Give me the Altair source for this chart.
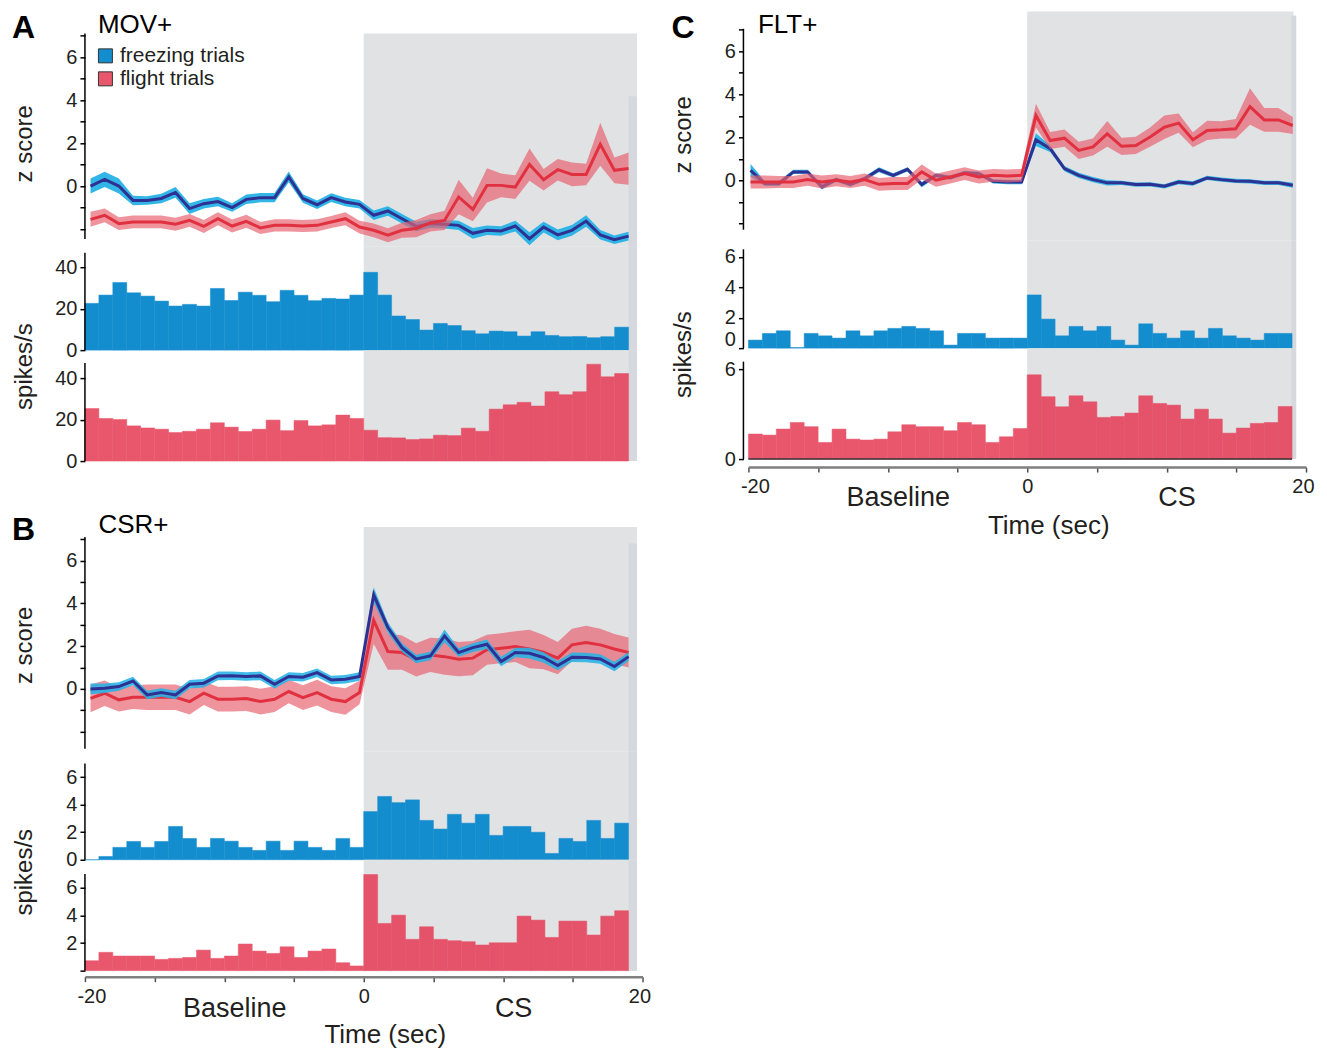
import altair as alt
import pandas as pd

FONT = "Liberation Sans"
INK = "#231f20"
BLUE_BAR = "#148dcf"
RED_BASE = "#e9576d"
RED_CS = "#e4536a"
NAVY = "#2e3192"
CYAN = "#27b2e6"
RED_LINE = "#e1303f"
PINK = "#e8606f"
GRAY = "#e1e2e4"
STRIP = "#d5d9de"

SERIES = ["freezing trials", "flight trials"]

# ---- time grids (sample times of the z-score traces, 1-s histogram bins) ----
t_ab = [round(-19.6 + 1.0158 * i, 3) for i in range(39)]
t_c = [round(-19.85 + 1.0237 * i, 3) for i in range(39)]
bin_lo = list(range(-20, 19))
bin_hi = [b + 1 for b in bin_lo]
x_ticks = [-20, -15, -10, -5, 0, 5, 10, 15, 20]
x_tick_labels = {-20: "-20", 0: "0", 20: "20"}
z_ticks = [-2, -1, 0, 1, 2, 3, 4, 5, 6, 7]
period_ticks = [-10, 10]
period_names = ["Baseline", "CS"]

# ---- Panel A: MOV+ ----
a_frz = [0.0, 0.31, 0.0, -0.67, -0.67, -0.58, -0.3, -1.05, -0.82, -0.72,
         -1.0, -0.62, -0.54, -0.54, 0.42, -0.58, -0.87, -0.54, -0.74, -0.85,
         -1.36, -1.16, -1.52, -1.88, -1.75, -1.78, -1.83, -2.2, -2.06, -2.09,
         -1.86, -2.45, -1.91, -2.27, -2.06, -1.63, -2.27, -2.5, -2.33]
a_frz_e = [0.35, 0.35, 0.35, 0.22, 0.2, 0.22, 0.25, 0.25, 0.22, 0.22,
           0.2, 0.22, 0.22, 0.22, 0.25, 0.2, 0.2, 0.2, 0.2, 0.2,
           0.22, 0.22, 0.22, 0.22, 0.2, 0.2, 0.22, 0.25, 0.22, 0.22,
           0.25, 0.3, 0.25, 0.25, 0.25, 0.27, 0.22, 0.2, 0.2]
a_flt = [-1.55, -1.36, -1.75, -1.67, -1.67, -1.67, -1.78, -1.6, -1.88, -1.52,
         -1.86, -1.64, -1.95, -1.83, -1.83, -1.86, -1.83, -1.67, -1.52, -1.91,
         -2.06, -2.29, -2.06, -1.98, -1.71, -1.6, -0.51, -1.09, 0.03, 0.03,
         -0.05, 1.0, 0.29, 0.76, 0.54, 0.54, 1.94, 0.73, 0.81]
a_flt_e = [0.35, 0.32, 0.3, 0.3, 0.3, 0.3, 0.3, 0.3, 0.3, 0.3,
           0.3, 0.3, 0.28, 0.28, 0.28, 0.28, 0.28, 0.28, 0.3, 0.3,
           0.32, 0.32, 0.35, 0.4, 0.4, 0.45, 0.8, 0.55, 0.8, 0.55,
           0.55, 0.75, 0.5, 0.5, 0.55, 0.5, 1.0, 0.6, 0.75]
a_hist_frz = [22.6, 26.6, 32.7, 27.7, 26.1, 23.7, 21.3, 22.1, 21.3, 29.8,
              24.0, 28.0, 26.5, 23.4, 28.9, 26.5, 23.9, 25.0, 24.7, 26.6,
              37.6, 26.6, 16.5, 14.8, 9.7, 12.9, 11.9, 9.4, 7.9, 9.2,
              8.9, 6.8, 8.9, 7.1, 6.5, 6.6, 6.0, 6.5, 11.1]
a_hist_flt = [25.4, 20.6, 20.1, 17.0, 16.0, 15.4, 13.8, 14.4, 15.4, 18.5,
              16.4, 14.3, 15.4, 19.8, 14.7, 19.6, 17.0, 17.5, 22.2, 20.6,
              14.9, 11.3, 11.2, 10.4, 10.7, 12.5, 12.3, 15.9, 14.4, 25.1,
              27.2, 28.4, 26.6, 33.5, 32.1, 33.5, 46.8, 40.7, 42.3]

# ---- Panel B: CSR+ ----
b_frz = [0.0, 0.03, 0.11, 0.37, -0.28, -0.17, -0.28, 0.22, 0.27, 0.61,
         0.62, 0.58, 0.61, 0.22, 0.58, 0.55, 0.76, 0.42, 0.45, 0.58,
         4.4, 2.87, 1.93, 1.4, 1.54, 2.48, 1.7, 1.93, 2.09, 1.28,
         1.7, 1.67, 1.47, 1.09, 1.48, 1.47, 1.4, 1.05, 1.51]
b_frz_e = [0.25, 0.22, 0.2, 0.2, 0.2, 0.2, 0.2, 0.2, 0.2, 0.2,
           0.2, 0.2, 0.2, 0.2, 0.2, 0.2, 0.2, 0.2, 0.2, 0.2,
           0.35, 0.25, 0.2, 0.2, 0.2, 0.3, 0.2, 0.2, 0.22, 0.22,
           0.22, 0.25, 0.25, 0.22, 0.22, 0.22, 0.22, 0.22, 0.2]
b_flt = [-0.44, -0.2, -0.51, -0.39, -0.39, -0.39, -0.39, -0.59, -0.2, -0.48,
         -0.48, -0.45, -0.59, -0.48, -0.12, -0.41, -0.17, -0.48, -0.59, -0.17,
         3.2, 1.75, 1.7, 1.36, 1.59, 1.51, 1.39, 1.44, 1.83, 1.9,
         1.98, 1.87, 1.72, 1.44, 2.06, 2.17, 2.06, 1.87, 1.7]
b_flt_e = [0.65, 0.6, 0.55, 0.55, 0.6, 0.6, 0.6, 0.6, 0.55, 0.58,
           0.58, 0.58, 0.6, 0.6, 0.55, 0.58, 0.6, 0.6, 0.62, 0.55,
           1.1, 0.85, 0.8, 0.78, 0.8, 0.85, 0.8, 0.8, 0.7, 0.7,
           0.72, 0.9, 0.8, 0.75, 0.75, 0.78, 0.75, 0.7, 0.7]
b_hist_frz = [0.0, 0.24, 0.9, 1.33, 0.9, 1.33, 2.42, 1.55, 0.9, 1.55,
              1.35, 0.9, 0.68, 1.35, 0.68, 1.35, 0.9, 0.68, 1.55, 0.9,
              3.5, 4.6, 4.15, 4.35, 2.86, 2.23, 3.3, 2.66, 3.3, 1.77,
              2.42, 2.42, 2.0, 0.46, 1.55, 1.33, 2.86, 1.55, 2.66]
b_hist_flt = [0.72, 1.33, 1.06, 1.06, 1.06, 0.82, 0.89, 0.96, 1.49, 0.89,
              1.06, 1.93, 1.42, 1.25, 1.73, 0.96, 1.42, 1.57, 0.58, 0.34,
              6.96, 3.42, 4.02, 2.27, 3.18, 2.27, 2.17, 2.1, 1.86, 2.02,
              2.02, 3.95, 3.66, 2.41, 3.59, 3.59, 2.58, 3.95, 4.34]

# ---- Panel C: FLT+ ----
c_frz = [0.46, -0.15, -0.15, 0.39, 0.39, -0.31, 0.03, -0.19, 0.08, 0.49,
         0.23, 0.51, -0.2, 0.23, 0.12, 0.34, 0.31, -0.05, -0.08, -0.08,
         1.89, 1.47, 0.54, 0.23, 0.03, -0.12, -0.12, -0.2, -0.19, -0.28,
         -0.08, -0.15, 0.11, 0.03, -0.03, -0.05, -0.12, -0.12, -0.23]
c_frz_e = [0.3, 0.12, 0.12, 0.1, 0.1, 0.12, 0.1, 0.1, 0.1, 0.12,
           0.1, 0.1, 0.12, 0.1, 0.1, 0.1, 0.1, 0.1, 0.1, 0.1,
           0.3, 0.15, 0.12, 0.12, 0.12, 0.12, 0.1, 0.1, 0.1, 0.1,
           0.1, 0.1, 0.1, 0.1, 0.1, 0.1, 0.1, 0.1, 0.12]
c_flt = [-0.08, -0.08, -0.08, -0.08, 0.03, -0.08, 0.0, -0.08, 0.03, -0.19,
         -0.15, -0.15, 0.39, 0.0, 0.15, 0.31, 0.15, 0.23, 0.2, 0.23,
         3.01, 1.85, 1.96, 1.39, 1.55, 2.16, 1.58, 1.62, 2.01, 2.47,
         2.66, 1.89, 2.32, 2.35, 2.4, 3.43, 2.81, 2.81, 2.55]
c_flt_e = [0.3, 0.3, 0.28, 0.28, 0.28, 0.3, 0.28, 0.28, 0.28, 0.3,
           0.3, 0.3, 0.35, 0.3, 0.3, 0.3, 0.3, 0.3, 0.3, 0.3,
           0.55, 0.4, 0.4, 0.4, 0.4, 0.6, 0.4, 0.4, 0.45, 0.55,
           0.45, 0.35, 0.45, 0.4, 0.45, 0.85, 0.55, 0.55, 0.4]
c_hist_frz = [0.53, 0.97, 1.14, 0.04, 0.97, 0.81, 0.66, 1.14, 0.81, 1.14,
              1.3, 1.43, 1.3, 1.14, 0.2, 0.97, 0.97, 0.66, 0.66, 0.66,
              3.5, 1.91, 0.81, 1.43, 1.14, 1.43, 0.53, 0.2, 1.6, 0.97,
              0.66, 1.14, 0.66, 1.3, 0.81, 0.66, 0.53, 0.97, 0.97]
c_hist_flt = [1.67, 1.6, 2.0, 2.44, 2.16, 1.11, 2.0, 1.33, 1.27, 1.33,
              1.82, 2.29, 2.16, 2.16, 1.89, 2.44, 2.29, 1.11, 1.49, 2.04,
              5.62, 4.16, 3.49, 4.22, 3.82, 2.78, 2.84, 3.07, 4.22, 3.71,
              3.6, 2.67, 3.33, 2.67, 1.73, 2.07, 2.38, 2.44, 3.51]

W = 558


def xscale():
    return alt.Scale(domain=[-20, 20], nice=False, zero=False)


def shading(cs_end, strip_x, xaxis=None, strip_y=None, Y=None):
    gray = alt.Chart(pd.DataFrame({"a": [0.0], "b": [cs_end]})).mark_rect(color=GRAY).encode(
        x=alt.X("a:Q", scale=xscale(), axis=xaxis), x2="b:Q")
    sdf = pd.DataFrame({"a": [strip_x[0]], "b": [strip_x[1]]})
    if strip_y is None:
        strip = alt.Chart(sdf).mark_rect(color=STRIP).encode(
            x=alt.X("a:Q", scale=xscale(), axis=None), x2="b:Q")
    else:
        sdf["lo"] = [strip_y[0]]
        sdf["hi"] = [strip_y[1]]
        strip = alt.Chart(sdf).mark_rect(color=STRIP).encode(
            x=alt.X("a:Q", scale=xscale(), axis=None), x2="b:Q", y=Y("lo:Q"), y2="hi:Q")
    return [gray, strip]


def axis_line(lo, hi, Y, xoff=0):
    return alt.Chart(pd.DataFrame({"lo": [lo], "hi": [hi]})).mark_rule(
        color="black", strokeWidth=1.5).encode(x=alt.value(-xoff), y=Y("lo:Q"), y2="hi:Q")


def label(text, x, y, size, bold):
    return alt.Chart(pd.DataFrame({"s": [text]})).mark_text(
        align="left", baseline="alphabetic", fontSize=size, font=FONT, color="black",
        fontWeight="bold" if bold else "normal").encode(
        text="s:N", x=alt.value(x), y=alt.value(y))


def z_panel(t, frz, frz_e, flt, flt_e, zdom, h, rule, strip_top, cs_end, strip_x,
            letter, letter_xy, name, name_xy, title_y, yoff=0, blue_on_top=False):
    ysc = alt.Scale(domain=zdom, nice=False, zero=False)
    yaxis = alt.Axis(values=z_ticks, domain=False, offset=yoff,
                     labelExpr="datum.value >= 0 && datum.value % 2 == 0 ? datum.label : ''",
                     title="z score", titleX=-60, titleY=title_y, titleAlign="center",
                     titleBaseline="middle", titleAngle=-90)

    def Y(f):
        return alt.Y(f, scale=ysc, axis=yaxis)

    df = pd.DataFrame({
        "t": t, "frz": frz, "flt": flt,
        "frz_lo": [v - e for v, e in zip(frz, frz_e)],
        "frz_hi": [v + e for v, e in zip(frz, frz_e)],
        "flt_lo": [v - e for v, e in zip(flt, flt_e)],
        "flt_hi": [v + e for v, e in zip(flt, flt_e)],
    })
    X = alt.X("t:Q", scale=xscale(), axis=None)
    base = alt.Chart(df)
    frz_band = base.mark_area(color=CYAN, opacity=0.88 if blue_on_top else 0.95).encode(
        x=X, y=Y("frz_lo:Q"), y2="frz_hi:Q")
    frz_line = base.mark_line(color=NAVY, strokeWidth=3).encode(x=X, y=Y("frz:Q"))
    flt_band = base.mark_area(color=PINK, opacity=0.68).encode(x=X, y=Y("flt_lo:Q"), y2="flt_hi:Q")
    flt_line = base.mark_line(color=RED_LINE, strokeWidth=3).encode(x=X, y=Y("flt:Q"))
    if blue_on_top:
        traces = [flt_band, flt_line, frz_band, frz_line]
    else:
        traces = [frz_band, frz_line, flt_band, flt_line]
    layers = shading(cs_end, strip_x, strip_y=(zdom[0], strip_top), Y=Y) + traces + [
        axis_line(rule[0], rule[1], Y, yoff),
        label(letter, letter_xy[0], letter_xy[1], 32, True),
        label(name, name_xy[0], name_xy[1], 26, False),
    ]
    return alt.layer(*layers).properties(width=W, height=h)


def hist_panel(vals, kind, ydom, h, rule, ticks, cs_end, strip_x, title_y=None,
               label_expr="datum.label", label_offset=0, yoff=0, legend=False,
               xaxis=None, period_axis=None, base_rule=False):
    ysc = alt.Scale(domain=ydom, nice=False, zero=False)
    ykw = dict(values=ticks, domain=False, offset=yoff, labelExpr=label_expr)
    if label_offset:
        ykw["labelOffset"] = {"condition": {"test": "datum.value == 0", "value": label_offset}, "value": 0}
    if title_y is not None:
        ykw.update(title="spikes/s", titleX=-60, titleY=title_y, titleAlign="center",
                   titleBaseline="middle", titleAngle=-90)
    else:
        ykw["title"] = None
    yaxis = alt.Axis(**ykw)

    def Y(f):
        return alt.Y(f, scale=ysc, axis=yaxis)

    df = pd.DataFrame({"t0": bin_lo, "t1": bin_hi, "rate": vals,
                       "series": SERIES[0] if kind == "frz" else SERIES[1]})
    X = alt.X("t0:Q", scale=xscale(), axis=xaxis)
    if kind == "frz":
        if legend:
            color = alt.Color("series:N", scale=alt.Scale(domain=SERIES, range=[BLUE_BAR, RED_BASE]),
                              legend=alt.Legend(orient="none", legendX=10, legendY=-201, title=None,
                                                symbolType="square", symbolSize=196,
                                                symbolStrokeColor="#333333", symbolStrokeWidth=1,
                                                symbolOpacity=1, labelFontSize=21, labelFont=FONT,
                                                labelColor=INK, labelOffset=4, rowPadding=1,
                                                padding=0))
            bars = alt.Chart(df).mark_rect(stroke=BLUE_BAR, strokeWidth=0.5).encode(
                x=X, x2="t1:Q", y=Y("rate:Q"), y2=alt.datum(0), color=color)
        else:
            bars = alt.Chart(df).mark_rect(color=BLUE_BAR, stroke=BLUE_BAR, strokeWidth=0.5).encode(
                x=X, x2="t1:Q", y=Y("rate:Q"), y2=alt.datum(0))
    else:
        cond = alt.condition("datum.t0 >= 0", alt.value(RED_CS), alt.value(RED_BASE))
        bars = alt.Chart(df).mark_rect(strokeWidth=0.5).encode(
            x=X, x2="t1:Q", y=Y("rate:Q"), y2=alt.datum(0), color=cond, stroke=cond)
    layers = shading(cs_end, strip_x, xaxis=period_axis) + [bars, axis_line(rule[0], rule[1], Y, yoff)]
    if base_rule:
        layers.append(alt.Chart(df).mark_rule(color="#333333", strokeWidth=1.5).encode(
            x=alt.X("min(t0):Q", scale=xscale(), axis=None), x2="max(t1):Q", y=alt.datum(0)))
    ch = alt.layer(*layers).properties(width=W, height=h)
    if xaxis is not None:
        ch = ch.resolve_axis(x="independent")
    return ch


def time_axis(offset, pad, title_y):
    expr = " : ".join("datum.value == %d ? '%s'" % (k, v) for k, v in x_tick_labels.items()) + " : ''"
    return alt.Axis(orient="bottom", zindex=1, values=x_ticks, offset=offset,
                    domainColor="#7f7f7f", domainWidth=2.5,
                    tickColor="#4d4d4d", tickWidth=1.5, tickSize=5, labelFontSize=20,
                    labelBaseline="alphabetic", labelPadding=pad, labelFlush=True,
                    labelFlushOffset=8, labelExpr=expr,
                    title="Time (sec)", titleFontSize=26, titleX=300, titleY=title_y,
                    titleAlign="center", titleBaseline="alphabetic")


def period_axis(offset, pad):
    expr = "datum.value < 0 ? '%s' : '%s'" % (period_names[0], period_names[1])
    return alt.Axis(orient="bottom", zindex=1, values=period_ticks, offset=offset, domain=False,
                    ticks=False, labelExpr=expr, labelFontSize=27, labelBaseline="alphabetic",
                    labelPadding=pad, labelOffset=10, labelFlush=False, title=None)


def spacer(h):
    return alt.Chart(pd.DataFrame({"v": [0]})).mark_point(opacity=0).encode(
        x=alt.value(0), y=alt.value(0)).properties(width=W, height=h)


AB_GRAY, AB_STRIP = 19.6, (19.0, 19.6)
C_GRAY, C_STRIP = 19.1, (18.95, 19.3)

A_z = z_panel(t_ab, a_frz, a_frz_e, a_flt, a_flt_e, [-2.8, 7.1], 213, (-2.47, 7.1), 4.17,
              AB_GRAY, AB_STRIP, "A", (-73, 5), "MOV+", (13, 0), 110)
A_blue = hist_panel(a_hist_frz, "frz", [0, 50.2], 104, (0, 47), [0, 20, 40], AB_GRAY, AB_STRIP,
                    title_y=120, legend=True)
A_red = hist_panel(a_hist_flt, "flt", [0, 53.6], 111, (0, 47.4), [0, 20, 40], AB_GRAY, AB_STRIP)

B_z = z_panel(t_ab, b_frz, b_frz_e, b_flt, b_flt_e, [-2.94, 7.57], 225, (-2.8, 7.1), 6.8,
              AB_GRAY, AB_STRIP, "B", (-73, 13), "CSR+", (13.6, 6), 118, blue_on_top=True)
B_blue = hist_panel(b_hist_frz, "frz", [0, 7.84], 108, (0, 7.0), [0, 2, 4, 6], AB_GRAY, AB_STRIP,
                    title_y=120)
B_red = hist_panel(b_hist_flt, "flt", [0, 8.03], 111, (0, 7.0), [0, 2, 4, 6], AB_GRAY, AB_STRIP,
                   label_expr="datum.value == 0 ? '' : datum.label",
                   xaxis=time_axis(6, 21, 66), period_axis=period_axis(6, 40))

C_z = z_panel(t_c, c_frz, c_frz_e, c_flt, c_flt_e, [-2.79, 7.86], 229, (-2.3, 7.05), 7.67,
              C_GRAY, C_STRIP, "C", (-77, 27), "FLT+", (9.5, 22), 123, yoff=5)
C_blue = hist_panel(c_hist_frz, "frz", [0, 7.1], 108, (0, 6.5), [0, 2, 4, 6], C_GRAY, C_STRIP,
                    title_y=114, label_offset=-9, yoff=5)
C_red = hist_panel(c_hist_flt, "flt", [0, 7.4], 111, (0, 6.5), [0, 2, 4, 6], C_GRAY, C_STRIP,
                   yoff=5, xaxis=time_axis(8, 20, 67), period_axis=period_axis(8, 38),
                   base_rule=True)

left = alt.vconcat(spacer(22), A_z, A_blue, A_red, spacer(66), B_z, B_blue, B_red,
                   spacing=0, bounds="flush").resolve_scale(
    x="independent", y="independent", color="independent").resolve_legend(color="independent")
right = alt.vconcat(C_z, C_blue, C_red, spacing=0, bounds="flush").resolve_scale(
    x="independent", y="independent")

# with flush bounds a nested column counts as zero width, so the spacing is the
# whole distance from the left plot's edge to the right plot's edge
chart = alt.hconcat(left, right, spacing=W + 106, bounds="flush").resolve_scale(
    x="independent", y="independent", color="independent").resolve_legend(
    color="independent").properties(
    padding={"left": 4, "top": 0, "right": 5, "bottom": 5}
).configure(font=FONT).configure_view(stroke=None).configure_axis(
    labelFont=FONT, labelFontSize=20, labelColor=INK, labelPadding=3,
    tickColor="black", tickWidth=1.5, tickSize=5, domainColor="black",
    titleFont=FONT, titleFontSize=24, titleFontWeight="normal", titleColor=INK, grid=False)

chart.save("out.html", embed_options={"renderer": "svg", "actions": False})
